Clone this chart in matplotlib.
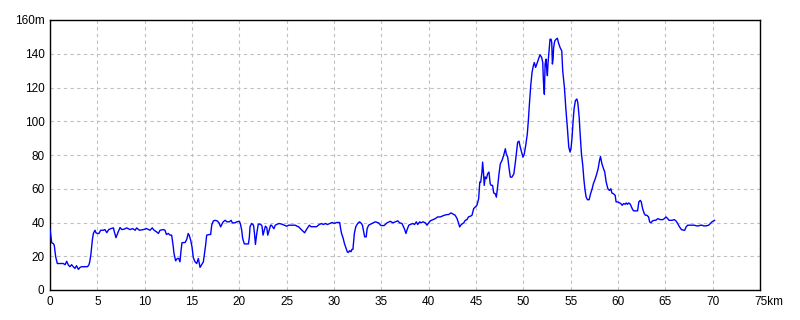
import matplotlib
matplotlib.use("Agg")
import matplotlib.pyplot as plt
from matplotlib.transforms import ScaledTranslation

plt.rcParams["font.family"] = ["Liberation Sans", "DejaVu Sans"]

dist_km = [
    0.0, 0.1, 0.18, 0.35, 0.45, 0.6, 0.77, 1.0, 1.4, 1.6, 1.76, 1.94, 2.1, 2.28, 2.46,
    2.63, 2.8, 3.0, 3.17, 3.35, 3.7, 3.95, 4.1, 4.2, 4.33, 4.47, 4.58, 4.75, 4.86, 5.0,
    5.17, 5.35, 5.63, 5.8, 6.0, 6.2, 6.44, 6.7, 6.8, 6.97, 7.2, 7.4, 7.6, 7.8, 8.1,
    8.45, 8.73, 9.0, 9.15, 9.44, 9.86, 10.2, 10.56, 10.8, 11.0, 11.27, 11.45, 11.62, 11.97, 12.15,
    12.3, 12.5, 12.68, 12.85, 13.0, 13.1, 13.27, 13.45, 13.6, 13.73, 13.84, 13.94, 14.08, 14.26, 14.44,
    14.6, 14.7, 14.86, 15.0, 15.14, 15.32, 15.5, 15.67, 15.85, 16.0, 16.2, 16.3, 16.44, 16.55, 16.83,
    16.97, 17.08, 17.25, 17.43, 17.68, 17.85, 18.03, 18.14, 18.3, 18.5, 18.7, 18.95, 19.13, 19.27, 19.55,
    19.72, 20.0, 20.1, 20.25, 20.35, 20.53, 20.78, 20.96, 21.06, 21.13, 21.3, 21.5, 21.6, 21.7, 21.84,
    22.0, 22.25, 22.4, 22.5, 22.64, 22.75, 22.9, 23.0, 23.2, 23.3, 23.4, 23.65, 23.8, 24.0, 24.2,
    24.5, 25.0, 25.2, 25.55, 25.9, 26.1, 26.25, 26.6, 26.9, 27.1, 27.4, 27.57, 27.8, 28.0, 28.15,
    28.44, 28.7, 28.85, 29.1, 29.3, 29.55, 29.8, 30.07, 30.24, 30.4, 30.6, 30.7, 30.8, 30.97, 31.1,
    31.28, 31.4, 31.5, 31.66, 31.8, 31.9, 32.0, 32.15, 32.3, 32.5, 32.7, 32.9, 33.0, 33.24, 33.4,
    33.5, 33.66, 34.0, 34.37, 34.7, 34.96, 35.3, 35.6, 35.95, 36.23, 36.48, 36.73, 36.94, 37.18, 37.43,
    37.6, 37.7, 37.9, 38.13, 38.35, 38.5, 38.7, 38.84, 39.05, 39.2, 39.4, 39.65, 39.82, 40.0, 40.18,
    40.46, 40.7, 40.95, 41.23, 41.4, 41.65, 41.94, 42.1, 42.36, 42.57, 42.8, 43.0, 43.17, 43.27, 43.45,
    43.7, 43.87, 44.05, 44.2, 44.4, 44.58, 44.75, 44.93, 45.1, 45.28, 45.4, 45.5, 45.63, 45.7, 45.8,
    45.87, 45.97, 46.1, 46.23, 46.37, 46.5, 46.6, 46.75, 46.87, 47.04, 47.15, 47.3, 47.43, 47.57, 47.75,
    47.92, 48.1, 48.2, 48.35, 48.5, 48.63, 48.8, 49.0, 49.16, 49.26, 49.4, 49.54, 49.68, 49.86, 49.96,
    50.1, 50.25, 50.42, 50.53, 50.64, 50.78, 50.92, 51.06, 51.16, 51.3, 51.48, 51.66, 51.76, 51.94, 52.05,
    52.12, 52.22, 52.3, 52.4, 52.47, 52.54, 52.6, 52.72, 52.82, 52.93, 53.0, 53.07, 53.14, 53.2, 53.32,
    53.46, 53.6, 53.7, 53.88, 54.06, 54.16, 54.34, 54.48, 54.66, 54.8, 54.94, 55.05, 55.15, 55.26, 55.36,
    55.5, 55.65, 55.75, 55.9, 56.0, 56.14, 56.28, 56.39, 56.5, 56.63, 56.77, 56.95, 57.1, 57.27, 57.4,
    57.6, 57.76, 57.9, 58.05, 58.15, 58.3, 58.47, 58.6, 58.75, 58.93, 59.1, 59.25, 59.35, 59.53, 59.7,
    59.8, 59.98, 60.16, 60.3, 60.44, 60.6, 60.76, 60.87, 61.0, 61.15, 61.3, 61.5, 61.64, 61.93, 62.07,
    62.2, 62.35, 62.46, 62.6, 62.77, 62.9, 63.05, 63.23, 63.34, 63.48, 63.65, 63.83, 64.0, 64.2, 64.47,
    64.72, 64.9, 65.07, 65.25, 65.4, 65.7, 65.95, 66.13, 66.3, 66.5, 66.7, 66.94, 67.04, 67.2, 67.36,
    67.64, 67.93, 68.07, 68.28, 68.53, 68.7, 68.88, 69.05, 69.3, 69.58, 69.76, 69.93, 70.1, 70.2,
]
elev_m = [
    36.0, 31.5, 28.0, 27.5, 26.5, 19.7, 15.7, 15.7, 15.7, 15.0, 17.0, 14.8, 13.8, 15.0, 13.8,
    12.8, 14.4, 12.2, 13.4, 13.8, 13.8, 13.8, 14.8, 16.7, 21.6, 29.5, 33.5, 35.4, 33.9, 33.5,
    33.5, 35.4, 35.4, 35.8, 34.0, 35.8, 36.4, 36.8, 34.4, 31.0, 34.4, 37.0, 35.8, 36.0, 36.8,
    35.8, 36.4, 35.4, 36.8, 35.4, 35.8, 36.4, 35.4, 36.8, 35.4, 34.4, 33.5, 35.4, 35.8, 35.4,
    32.9, 33.5, 32.5, 32.5, 26.6, 21.6, 17.3, 18.7, 18.7, 16.7, 23.2, 28.0, 28.1, 28.1, 29.9,
    33.5, 32.5, 29.5, 25.6, 19.1, 16.7, 15.7, 18.7, 13.4, 14.8, 16.7, 20.7, 26.6, 32.5, 32.9,
    32.9, 38.4, 40.9, 41.3, 40.9, 39.8, 37.4, 38.8, 40.4, 41.3, 40.4, 40.4, 41.3, 39.8, 39.8,
    40.4, 40.7, 39.4, 35.5, 30.6, 27.3, 27.3, 27.3, 31.4, 37.5, 39.4, 38.4, 33.5, 27.0, 33.5,
    39.0, 39.0, 37.8, 32.5, 35.5, 37.8, 37.0, 32.5, 36.3, 38.4, 38.4, 36.3, 38.4, 39.0, 39.4,
    39.0, 37.8, 38.4, 38.4, 38.4, 37.8, 37.5, 35.5, 33.9, 35.9, 38.4, 37.5, 37.5, 37.5, 37.5,
    38.8, 39.4, 38.8, 39.4, 38.8, 39.4, 40.0, 39.4, 40.0, 40.0, 40.0, 36.3, 33.5, 30.6, 27.6,
    24.7, 22.7, 22.2, 23.3, 22.7, 24.1, 24.1, 33.5, 37.5, 39.4, 40.4, 39.4, 38.4, 31.5, 31.5,
    36.4, 38.4, 39.4, 40.4, 39.8, 38.2, 38.2, 39.8, 40.7, 39.8, 40.4, 41.0, 39.8, 39.4, 36.4,
    33.5, 35.4, 38.4, 39.0, 39.4, 38.8, 40.4, 38.8, 40.4, 39.8, 40.4, 39.8, 38.4, 39.8, 41.0,
    41.7, 42.3, 43.3, 43.3, 43.7, 44.3, 44.7, 44.7, 45.7, 45.0, 44.3, 42.3, 39.4, 37.4, 38.8,
    39.8, 41.3, 41.7, 43.3, 43.7, 44.3, 48.2, 49.2, 50.2, 54.1, 64.0, 64.0, 69.9, 75.8, 68.9,
    62.0, 67.0, 66.0, 68.9, 69.9, 63.0, 62.0, 62.0, 57.5, 57.0, 55.0, 62.0, 68.9, 74.8, 76.8,
    79.7, 83.7, 80.7, 78.7, 71.9, 66.9, 66.9, 68.9, 75.8, 80.7, 87.6, 88.2, 84.6, 80.7, 78.7,
    80.7, 85.6, 92.5, 100.4, 110.0, 121.0, 129.0, 132.9, 134.8, 131.9, 134.8, 137.8, 139.4, 137.8, 134.8,
    124.0, 116.0, 133.9, 136.8, 130.9, 127.0, 133.9, 141.7, 148.6, 148.6, 146.7, 133.9, 136.8, 143.7, 147.6,
    148.6, 149.2, 146.7, 143.7, 141.7, 129.9, 120.0, 108.3, 95.5, 84.6, 81.7, 84.6, 90.6, 100.4, 107.3,
    112.2, 113.2, 111.2, 102.4, 92.5, 80.7, 73.8, 65.9, 60.0, 55.1, 53.5, 53.5, 57.0, 60.0, 63.0,
    66.0, 68.9, 71.9, 76.8, 79.1, 74.8, 71.9, 69.9, 64.0, 60.0, 59.0, 60.0, 57.5, 57.0, 56.1,
    52.2, 52.2, 51.6, 51.2, 50.2, 51.2, 50.8, 51.6, 50.8, 51.6, 50.8, 48.2, 46.9, 46.9, 46.9,
    52.2, 53.1, 52.2, 48.2, 45.3, 44.3, 44.3, 43.3, 40.4, 39.8, 41.0, 41.3, 41.3, 42.3, 41.7,
    41.7, 42.3, 43.3, 42.3, 41.3, 41.3, 41.7, 40.9, 39.4, 37.4, 35.8, 35.4, 35.4, 37.4, 38.4,
    38.4, 38.4, 38.4, 38.0, 38.0, 38.4, 38.4, 38.0, 38.0, 38.4, 39.4, 40.4, 41.0, 41.3,
]

x_ticks = [0, 5, 10, 15, 20, 25, 30, 35, 40, 45, 50, 55, 60, 65, 70, 75]
x_labels = ["0", "5", "10", "15", "20", "25", "30", "35", "40", "45", "50", "55", "60", "65", "70", "75km"]
y_ticks = [0, 20, 40, 60, 80, 100, 120, 140, 160]
y_labels = ["0", "20", "40", "60", "80", "100", "120", "140", "160m"]

fig = plt.figure(figsize=(8, 3.2), dpi=100)
ax = fig.add_axes([50 / 800, 30 / 320, 710 / 800, 270 / 320])

ax.plot(dist_km, elev_m, color="#0000ff", linewidth=1.0, zorder=3)

ax.set_xlim(0, 75)
ax.set_ylim(0, 160)
ax.set_xticks(x_ticks)
ax.set_yticks(y_ticks)
ax.set_xticklabels(x_labels)
ax.set_yticklabels(y_labels)
ax.tick_params(axis="both", length=0, labelsize=8.5, colors="black")
ax.tick_params(axis="x", pad=4)
ax.tick_params(axis="y", pad=4)

ax.grid(True, color="#c0c0c0", linestyle=(0, (3, 3)), linewidth=0.8, zorder=1)
ax.set_axisbelow(True)
for s in ax.spines.values():
    s.set_color("black")
    s.set_linewidth(1.0)

# place "75km" so that "75" is centered on its tick
lbls = ax.get_xticklabels()
last = lbls[-1]
last.set_ha("left")
last.set_transform(last.get_transform() + ScaledTranslation(-6 / 100, 0, fig.dpi_scale_trans))

fig.savefig("out.png", dpi=100, facecolor="white")
